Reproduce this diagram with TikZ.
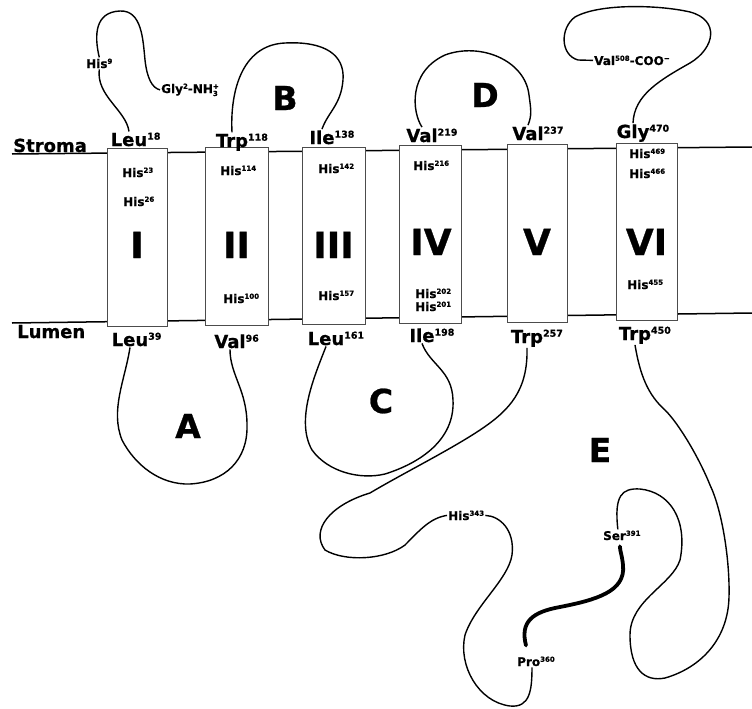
\documentclass[tikz,border=0pt]{standalone}
\usepackage{fontspec}
\setmainfont{DejaVu Sans}[BoldFeatures={FakeBold=0.8}]
\newcommand{\resid}[2]{#1\rlap{\raisebox{0.35em}{\fontsize{9.5}{9.5}\selectfont #2}}}
\newcommand{\upsm}[1]{\raisebox{0.35em}{\fontsize{7}{7}\selectfont #1}}
\newcommand{\dnsm}[1]{\raisebox{-0.25em}{\fontsize{7}{7}\selectfont #1}}

\tikzset{
  membrane/.style={line width=1.5pt},
  helix/.style={draw=black!70, line width=0.7pt, fill=white, inner sep=0pt, outer sep=0pt},
  chain/.style={line width=1.4pt},
  chainbold/.style={line width=3.8pt, line cap=round},
  resname/.style={font=\fontsize{18}{18}\selectfont\bfseries, inner sep=1pt},
  hislbl/.style={font=\fontsize{12}{12}\selectfont\bfseries, inner sep=1pt, anchor=base west},
  looplbl/.style={font=\fontsize{12}{12}\selectfont\bfseries, inner sep=1pt, anchor=base west},
  roman/.style={font=\fontsize{36}{36}\selectfont\bfseries, inner sep=0pt, anchor=base},
  domlbl/.style={font=\fontsize{33}{33}\selectfont\bfseries, inner sep=0pt, anchor=base},
}

\begin{document}
\begin{tikzpicture}[x=1pt,y=1pt,yscale=-1,xscale=1]
\useasboundingbox (0,0) rectangle (752,709);

%Membrane
\coordinate (strL) at (12,154);
\coordinate (strR) at (752,147);
\coordinate (lumL) at (12,323);
\coordinate (lumR) at (752,313);
\draw [membrane] (strL) -- (strR);
\draw [membrane] (lumL) -- (lumR);

%Helices
\node [helix, minimum width=60, minimum height=178] (boxI) at (137,237) {};
\node [helix, minimum width=63, minimum height=178] (boxII) at (236.5,236) {};
\node [helix, minimum width=63, minimum height=177] (boxIII) at (333.5,235.5) {};
\node [helix, minimum width=62, minimum height=178] (boxIV) at (430,234) {};
\node [helix, minimum width=60, minimum height=178] (boxV) at (537,233) {};
\node [helix, minimum width=61, minimum height=177] (boxVI) at (646.5,231.5) {};

\node [roman] (romI) at (137,258) {I};
\node [roman] (romII) at (236.5,258) {II};
\node [roman] (romIII) at (333.5,258) {III};
\node [roman] (romIV) at (431,255) {IV};
\node [roman] (romV) at (537,255) {V};
\node [roman] (romVI) at (646.5,255) {VI};

% Text Node
\node [resname, anchor=base west, inner sep=0pt] (stroma) at (13,152) {Stroma};
\node [resname, anchor=base west, inner sep=0pt] (lumen) at (17,338) {Lumen};

% Text Node
\node [resname, anchor=base] (leu18) at (129,146) {\resid{Leu}{18}};
\node [resname, anchor=base] (trp118) at (232,147) {\resid{Trp}{118}};
\node [resname, anchor=base] (ile138) at (322,144) {\resid{Ile}{138}};
\node [resname, anchor=base] (val219) at (422,142) {\resid{Val}{219}};
\node [resname, anchor=base] (val237) at (528,140) {\resid{Val}{237}};
\node [resname, anchor=base] (gly470) at (633,138) {\resid{Gly}{470}};
\node [resname, anchor=base] (leu39) at (130,346) {\resid{Leu}{39}};
\node [resname, anchor=base] (val96) at (230,348) {\resid{Val}{96}};
\node [resname, anchor=base] (leu161) at (326,345) {\resid{Leu}{161}};
\node [resname, anchor=base] (ile198) at (422,342) {\resid{Ile}{198}};
\node [resname, anchor=base] (trp257) at (527,343) {\resid{Trp}{257}};
\node [resname, anchor=base] (trp450) at (635,340) {\resid{Trp}{450}};

% Text Node
\node [hislbl] (his23) at (121,177) {His\upsm{23}};
\node [hislbl] (his26) at (122,206) {His\upsm{26}};
\node [hislbl] (his114) at (219,175) {His\upsm{114}};
\node [hislbl] (his100) at (222,303) {His\upsm{100}};
\node [hislbl] (his142) at (317,173) {His\upsm{142}};
\node [hislbl] (his157) at (317,300) {His\upsm{157}};
\node [hislbl] (his216) at (412,170) {His\upsm{216}};
\node [hislbl] (his202) at (414,298) {His\upsm{202}};
\node [hislbl] (his201) at (414,311) {His\upsm{201}};
\node [hislbl] (his469) at (628,158) {His\upsm{469}};
\node [hislbl] (his466) at (628,178) {His\upsm{466}};
\node [hislbl] (his455) at (626,289) {His\upsm{455}};

% Text Node
\node [looplbl] (his9) at (85,68) {His\upsm{9}};
\node [looplbl] (gly2) at (160,93) {Gly\upsm{2}-NH\rlap{\dnsm{3}}\upsm{+}};
\node [looplbl] (val508) at (593,65) {Val\upsm{508}-COO\upsm{\char"2212}};
\node [looplbl] (his343) at (447,520) {His\upsm{343}};
\node [looplbl] (ser391) at (602,540) {Ser\upsm{391}};
\node [looplbl] (pro360) at (516,666) {Pro\upsm{360}};

% Text Node
\node [domlbl] (domA) at (188,438) {A};
\node [domlbl] (domB) at (285,110) {B};
\node [domlbl] (domC) at (381,413) {C};
\node [domlbl] (domD) at (485,107) {D};
\node [domlbl] (domE) at (600,462) {E};

%Curve Lines
\draw [chain] (leu18.north) .. controls (126,110) and (96,96) .. (his9.south);
\draw [chain] (his9.north) .. controls (94,35) and (95,12) .. (120,11) .. controls (142,10) and (143,40) .. (145,60) .. controls (147,78) and (152,88) .. (gly2.west);
%Curve Lines
\draw [chain] (trp118.north) .. controls (230,95) and (240,45) .. (285,43) .. controls (325,41) and (345,55) .. (343,80) .. controls (341,105) and (328,112) .. (ile138.north);
%Curve Lines
\draw [chain] (val219.north) .. controls (412,112) and (408,72) .. (445,55) .. controls (480,42) and (525,60) .. (529,95) .. controls (531,110) and (532,115) .. (val237.north);
%Curve Lines
\draw [chain] (gly470.north) .. controls (634,95) and (660,80) .. (690,63) .. controls (715,48) and (720,20) .. (690,12) .. controls (660,5) and (600,3) .. (575,17) .. controls (560,28) and (560,55) .. (578,60) -- (val508.west);
%Curve Lines
\draw [chain] (leu39.south) .. controls (125,380) and (110,410) .. (122,440) .. controls (135,465) and (160,485) .. (190,484) .. controls (225,482) and (248,460) .. (247,425) .. controls (247,390) and (230,375) .. (val96.south);
%Curve Lines
\draw [chain] (leu161.south) .. controls (315,375) and (295,420) .. (312,450) .. controls (328,472) and (360,480) .. (385,474) .. controls (420,463) and (455,440) .. (453,400) .. controls (452,370) and (430,365) .. (ile198.south);
%Curve Lines
\draw [chain] (trp257.south) .. controls (528,390) and (510,410) .. (480,430) .. controls (450,450) and (400,475) .. (370,493) .. controls (330,505) and (310,530) .. (325,550) .. controls (345,562) and (385,560) .. (405,545) .. controls (420,530) and (430,518) .. (his343.west);
\draw [chain] (his343.east) .. controls (500,516) and (515,530) .. (512,555) .. controls (508,580) and (475,605) .. (465,635) .. controls (458,665) and (478,702) .. (510,706) .. controls (530,708) and (532,690) .. ([xshift=-4pt]pro360.south);
\draw [chainbold] ([xshift=-10pt,yshift=-10pt]pro360.north) .. controls (520,622) and (532,612) .. (560,607) .. controls (595,600) and (626,592) .. (623,565) .. controls (622,555) and (620,551) .. ([xshift=-2pt,yshift=5pt]ser391.south);
\draw [chain] ([xshift=-4pt]ser391.north) .. controls (614,495) and (622,488) .. (640,489) .. controls (670,492) and (688,520) .. (680,560) .. controls (672,585) and (630,600) .. (630,635) .. controls (630,670) and (645,682) .. (665,678) .. controls (700,668) and (728,640) .. (729,597) .. controls (730,560) and (722,510) .. (710,485) .. controls (700,460) and (680,425) .. (665,410) .. controls (648,395) and (640,375) .. (trp450.south);
\end{tikzpicture}
\end{document}
